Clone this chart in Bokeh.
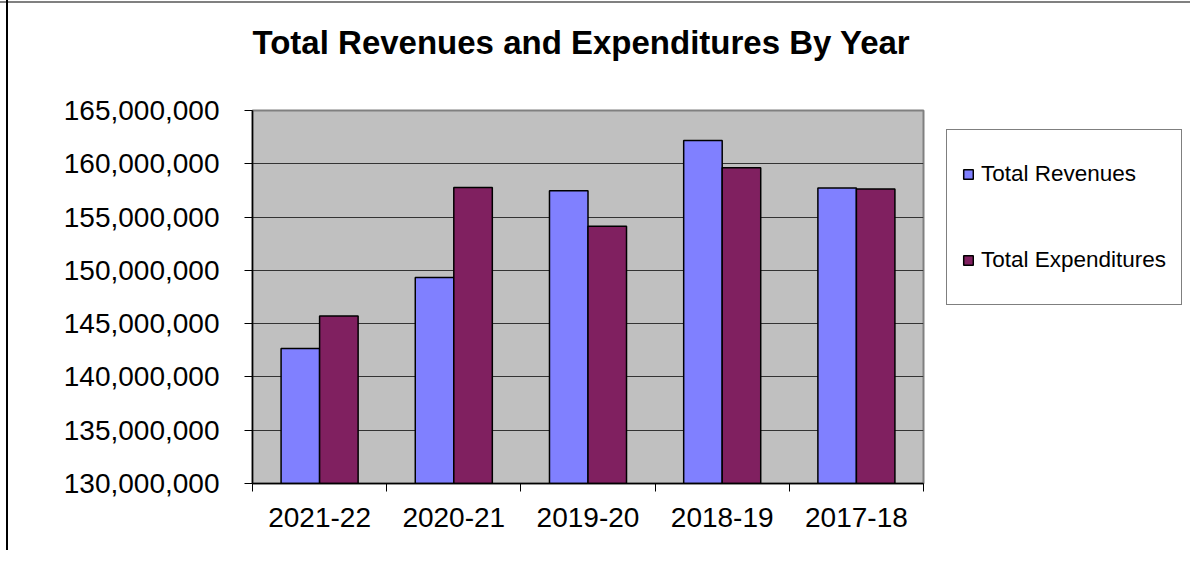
from bokeh.plotting import figure
from bokeh.models import (ColumnDataSource, Range1d, LinearAxis,
                          FixedTicker, NumeralTickFormatter, Legend)
from bokeh.transform import dodge
from bokeh.embed import file_html
from bokeh.resources import INLINE

years = ["2021-22", "2020-21", "2019-20", "2018-19", "2017-18"]
revenues = [142660000, 149340000, 157470000, 162190000, 157720000]
expenditures = [145720000, 157780000, 154130000, 159630000, 157630000]
y_ticks = [130000000, 135000000, 140000000, 145000000, 150000000, 155000000, 160000000, 165000000]

FONT = "Liberation Sans"
BAR_W = 0.287

centers = [i + 0.5 for i in range(len(years))]
bounds = list(range(len(years) + 1))
src = ColumnDataSource(dict(x=centers, year=years, rev=revenues, exp=expenditures))

p = figure(frame_width=671, frame_height=373, output_backend="svg", toolbar_location=None,
           x_range=Range1d(0, len(years)), y_range=Range1d(130000000, 165000000),
           x_axis_location=None, y_axis_location="left",
           min_border_left=252, min_border_right=0, min_border_top=110, min_border_bottom=67,
           title="Total Revenues and Expenditures By  Year")

p.background_fill_color = "#C0C0C0"
p.border_fill_color = "white"
p.border_fill_alpha = 0
p.styles = {
    "background-color": "white",
    "background-image": ("linear-gradient(to right, rgba(0,0,0,0) 6px, #000000 6px, #000000 8px, rgba(0,0,0,0) 8px), "
                         "linear-gradient(to bottom, rgba(0,0,0,0) 1px, #808080 1px, #808080 3px, rgba(0,0,0,0) 3px)"),
}
p.outline_line_color = "#808080"
p.outline_line_width = 2

p.title.text_font = FONT
p.title.text_font_size = "33px"
p.title.text_font_style = "bold"
p.title.text_color = "black"
p.title.align = "left"
p.title.standoff = 0
p.title.padding = dict(top=0, right=0, bottom=50, left=0)

# bars
r1 = p.vbar(x=dodge("x", -BAR_W / 2), top="rev", width=BAR_W, bottom=0,
            source=src, fill_color="#8080FF", line_color="black", line_width=1.5)
r2 = p.vbar(x=dodge("x", BAR_W / 2), top="exp", width=BAR_W, bottom=0,
            source=src, fill_color="#802060", line_color="black", line_width=1.5)

# y axis
ya = p.yaxis[0]
ya.ticker = FixedTicker(ticks=y_ticks)
ya.formatter = NumeralTickFormatter(format="0,0")
ya.major_label_text_font = FONT
ya.major_label_text_font_size = "28px"
ya.major_label_text_color = "black"
ya.major_tick_out = 8
ya.major_tick_in = 0
ya.minor_tick_line_color = None
ya.axis_line_color = "black"
ya.axis_line_width = 1.5
ya.major_tick_line_color = "black"
ya.major_label_standoff = 25

p.ygrid.ticker = FixedTicker(ticks=y_ticks)
p.ygrid.grid_line_color = "#333333"
p.ygrid.grid_line_width = 1
p.xgrid.grid_line_color = None

# x axis: labels at category centres, tick marks at category boundaries
xa = LinearAxis(ticker=FixedTicker(ticks=centers, minor_ticks=bounds),
                major_label_overrides={c: y for c, y in zip(centers, years)},
                axis_line_color="black", axis_line_width=1.5,
                major_tick_line_color=None, major_tick_out=8, major_tick_in=0,
                minor_tick_line_color="black", minor_tick_out=8, minor_tick_in=0,
                major_label_standoff=16,
                major_label_text_font=FONT, major_label_text_font_size="28px",
                major_label_text_color="black")
p.add_layout(xa, "below")

# legend
legend = Legend(items=[("Total Revenues", [r1]), ("Total Expenditures", [r2])],
                location=(23, 178), margin=12, orientation="vertical",
                label_text_font=FONT, label_text_font_size="22.5px", label_text_color="black",
                glyph_width=12, glyph_height=12, label_standoff=7,
                label_height=58, padding=15, spacing=28,
                border_line_color="black", border_line_width=1,
                background_fill_color="white", background_fill_alpha=1.0)
p.add_layout(legend, "right")

open("out.html", "w").write(file_html(p, INLINE))
